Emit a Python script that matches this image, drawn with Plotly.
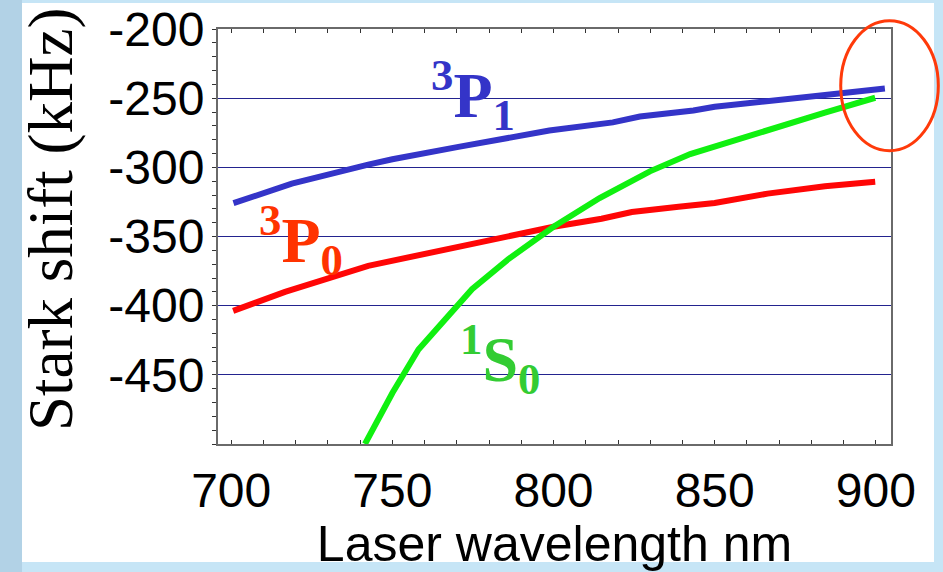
import plotly.graph_objects as go

# ---- data ----
wl_3p1 = [700.7, 718.8, 742.5, 750.0, 770.5, 788.0, 798.7, 818.4, 826.8, 843.4, 850.0, 877.8, 890.3, 902.8]
shift_3p1 = [-325.9, -311.8, -298.0, -294.2, -285.2, -278.0, -273.4, -267.5, -263.3, -258.9, -256.2, -249.3, -246.1, -243.0]

wl_3p0 = [700.6, 716.7, 742.5, 750.0, 770.5, 786.0, 800.0, 814.9, 824.3, 838.8, 850.0, 866.4, 884.2, 899.8]
shift_3p0 = [-403.8, -390.0, -371.2, -367.5, -357.1, -349.4, -343.0, -337.2, -332.3, -328.5, -325.8, -319.0, -313.7, -310.5]

wl_1s0 = [741.5, 750.0, 758.1, 774.7, 786.0, 800.0, 814.3, 829.9, 842.4, 850.0, 866.4, 884.2, 899.8]
shift_1s0 = [-500.0, -463.1, -431.7, -388.1, -366.3, -343.0, -322.2, -302.9, -290.4, -284.8, -272.5, -260.5, -249.7]

x_tick_vals = [700, 750, 800, 850, 900]
x_tick_text = ["700", "750", "800", "850", "900"]
x_grid_vals = [750, 800, 850]
y_tick_vals = [-200, -250, -300, -350, -400, -450]
y_tick_text = ["-200", "-250", "-300", "-350", "-400", "-450"]

series_labels = ["<sup>3</sup>P<sub>1</sub>", "<sup>3</sup>P<sub>0</sub>", "<sup>1</sup>S<sub>0</sub>"]

X_RANGE = [695.9, 904.7]
Y_RANGE = [-500, -200]

fig = go.Figure()
fig.add_trace(go.Scatter(x=wl_3p1, y=shift_3p1, mode="lines", line=dict(color="#3434c8", width=6), hoverinfo="skip"))
fig.add_trace(go.Scatter(x=wl_3p0, y=shift_3p0, mode="lines", line=dict(color="#ff0606", width=6), hoverinfo="skip"))
fig.add_trace(go.Scatter(x=wl_1s0, y=shift_1s0, mode="lines", line=dict(color="#10f010", width=6), hoverinfo="skip"))

tickfont = dict(family="Liberation Sans, Arial, sans-serif", size=48, color="black")
grid_col = "#23238f"
axis_col = "#6a6a6a"
label_font = "Liberation Serif, Times New Roman, serif"

fig.update_layout(
    width=943, height=572,
    margin=dict(l=218, r=52, t=29, b=128, pad=0),
    paper_bgcolor="#c6e5f6",
    plot_bgcolor="white",
    showlegend=False,
    xaxis=dict(
        range=X_RANGE, tickvals=x_tick_vals, ticktext=x_tick_text,
        ticks="inside", ticklen=4, tickcolor="#333", tickwidth=1,
        minor=dict(dtick=10, tick0=700, ticks="inside", ticklen=4, tickcolor="#333", showgrid=False),
        showgrid=False, zeroline=False,
        showline=True, linecolor=axis_col, linewidth=2, mirror="ticks",
        tickfont=tickfont, ticklabelstandoff=3,
        title=dict(text="Laser wavelength nm", font=dict(family="Liberation Sans, Arial, sans-serif", size=50, color="black"), standoff=8),
        automargin=False,
    ),
    xaxis2=dict(
        range=X_RANGE, overlaying="x", anchor="y", side="bottom",
        tickvals=x_grid_vals, showticklabels=False, ticks="",
        showgrid=True, gridcolor=grid_col, gridwidth=1,
        showline=False, zeroline=False,
    ),
    yaxis=dict(
        range=Y_RANGE, tickvals=y_tick_vals, ticktext=y_tick_text,
        ticks="outside", ticklen=4, tickcolor="#333", tickwidth=1,
        minor=dict(dtick=10, tick0=-500, ticks="outside", ticklen=4, tickcolor="#333", showgrid=False),
        showgrid=True, gridcolor=grid_col, gridwidth=1, zeroline=False,
        showline=True, linecolor=axis_col, linewidth=2, mirror=True,
        tickfont=tickfont, ticklabelstandoff=-2,
        automargin=False,
    ),
    yaxis2=dict(
        range=Y_RANGE, overlaying="y", anchor="x", side="right",
        tickvals=y_tick_vals, showticklabels=False,
        ticks="inside", ticklen=4, tickcolor="#333",
        minor=dict(dtick=10, tick0=-500, ticks="inside", ticklen=4, tickcolor="#333"),
        showgrid=False, showline=False, zeroline=False,
    ),
    shapes=[
        dict(type="rect", xref="paper", yref="paper", x0=-0.3239, x1=-0.2912, y0=-0.3084, y1=1.0699,
             fillcolor="#b2d2e6", line=dict(width=0), layer="below"),
        dict(type="rect", xref="paper", yref="paper", x0=-0.2912, x1=1.0639, y0=-0.2843, y1=1.0627,
             fillcolor="white", line=dict(width=0), layer="below"),
        dict(type="circle", xref="paper", yref="paper", x0=0.9253, x1=1.0703, y0=0.7067, y1=1.02,
             line=dict(color="#ff3a0a", width=3), fillcolor="rgba(0,0,0,0)"),
    ],
    annotations=[
        dict(text="Stark shift (kHz)", xref="paper", yref="paper", x=-0.2481, y=0.5398,
             xanchor="center", yanchor="middle", textangle=-90, showarrow=False,
             font=dict(family=label_font, size=63, color="black")),
        dict(text="<b>" + series_labels[0] + "</b>", xref="paper", yref="paper", x=0.3789, y=0.841,
             xanchor="center", yanchor="middle", showarrow=False,
             font=dict(family=label_font, size=64, color="#3434c8")),
        dict(text="<b>" + series_labels[1] + "</b>", xref="paper", yref="paper", x=0.1233, y=0.4916,
             xanchor="center", yanchor="middle", showarrow=False,
             font=dict(family=label_font, size=64, color="#ff3300")),
        dict(text="<b>" + series_labels[2] + "</b>", xref="paper", yref="paper", x=0.419, y=0.206,
             xanchor="center", yanchor="middle", showarrow=False,
             font=dict(family=label_font, size=64, color="#33cc33")),
    ],
)

fig.write_html(
    "out.html",
    config={"displayModeBar": False},
    post_script="document.documentElement.style.margin='0';document.body.style.margin='0';document.body.style.overflow='hidden';",
)
